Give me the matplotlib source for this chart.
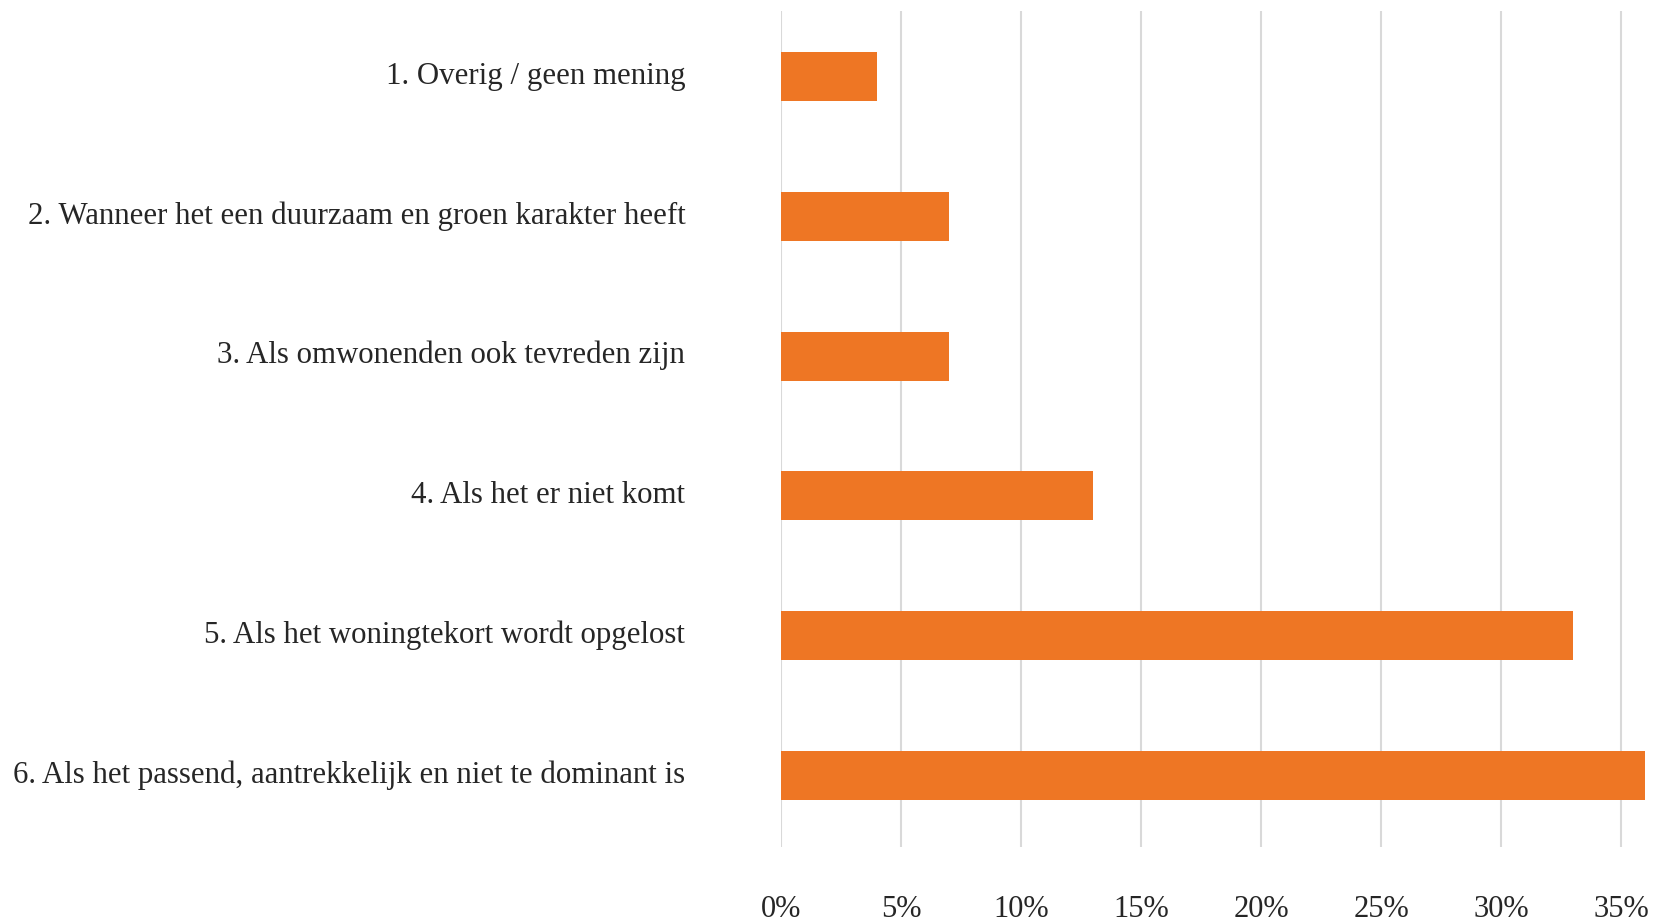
import matplotlib.pyplot as plt
import matplotlib.transforms as mtransforms
from matplotlib.ticker import PercentFormatter

labels = [
    "1. Overig / geen mening",
    "2. Wanneer het een duurzaam en groen karakter heeft",
    "3. Als omwonenden ook tevreden zijn",
    "4. Als het er niet komt",
    "5. Als het woningtekort wordt opgelost",
    "6. Als het passend, aantrekkelijk en niet te dominant is",
]
values = [0.04, 0.07, 0.07, 0.13, 0.33, 0.36]
xticks = [0, 0.05, 0.10, 0.15, 0.20, 0.25, 0.30, 0.35]

plt.rcParams['font.family'] = ['Liberation Serif', 'DejaVu Serif']

fig = plt.figure(figsize=(16.74, 9.21), dpi=100)
ax = fig.add_axes([0.4666, 0.0808, 0.9827 - 0.4666, 0.988 - 0.0808])

ax.barh(range(len(labels)), values, height=0.35, color='#EE7624', zorder=3)

ax.set_xlim(0, 0.36)
ax.set_ylim(5.51, -0.47)
ax.set_xticks(xticks)
ax.xaxis.set_major_formatter(PercentFormatter(1.0, decimals=0))
ax.set_yticks(range(len(labels)))
ax.set_yticklabels(labels)

ax.grid(axis='x', color='#D9D9D9', linewidth=1.5, zorder=0)
for s in ax.spines.values():
    s.set_visible(False)
ax.tick_params(axis='y', length=0, pad=69, labelsize=22.2, labelcolor='#262626')
ax.tick_params(axis='x', length=0, pad=35, labelsize=22, labelcolor='#262626')

# nudge category labels up a little
shift = mtransforms.ScaledTranslation(0, 4 / 100, fig.dpi_scale_trans)
for t in ax.get_yticklabels():
    t.set_transform(t.get_transform() + shift)

fig.savefig('out.png', dpi=100, facecolor='white')
